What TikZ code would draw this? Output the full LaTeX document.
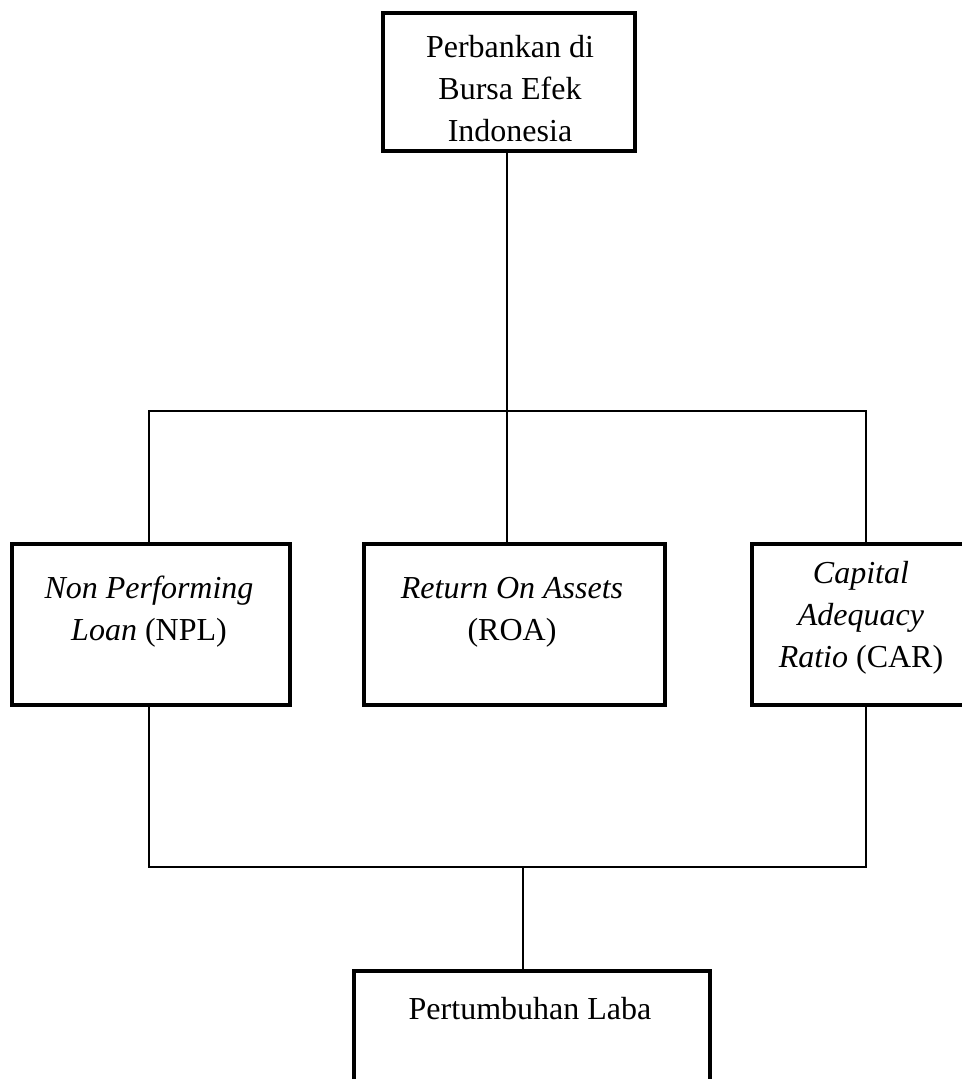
\documentclass[tikz,border=0pt]{standalone}
\usepackage{fontspec}
\setmainfont{Liberation Serif}
\usepackage{tikz}
\usetikzlibrary{positioning}

\begin{document}
\begin{tikzpicture}[x=0.75pt, y=-0.75pt, every node/.style={font=\fontsize{24}{31.5}\selectfont}, box/.style={draw,line width=3.4pt,inner sep=0pt,minimum height=120.75pt}, txt/.style={align=center,inner sep=0pt}, conn/.style={line width=1.2pt}]
\useasboundingbox (0,0) rectangle (962,1079);
\node[box,minimum width=189pt,minimum height=103.5pt] (bei) at (509,82) {};
\node[box,minimum width=208.5pt] (npl) at (151,624.5) {};
\node[box,minimum width=225.75pt] (roa) at (514.5,624.5) {};
\node[box,minimum width=163.5pt] (car) at (861,624.5) {};
\node[box,minimum width=267pt] (laba) at (532,1051.5) {};
\node[txt] (beitxt) at (510,89) {Perbankan di\\Bursa Efek\\Indonesia};
\node[txt] (npltxt) at (149,612) {\textit{Non Performing}\\\textit{Loan} (NPL)};
\node[txt] (roatxt) at (512,612) {\textit{Return On Assets}\\(ROA)};
\node[txt] (cartxt) at (861,618) {\textit{Capital}\\\textit{Adequacy}\\\textit{Ratio} (CAR)};
\node[txt] (labatxt) at (530,1009) {Pertumbuhan Laba};
\coordinate (split) at (507,411);
\coordinate (join) at (523,867);
\draw[conn] (split |- bei.south) -- (split |- roa.north);
\draw[conn] ([xshift=-1.5pt]npl.north) |- (split) -| ([xshift=3.75pt]car.north);
\draw[conn] ([xshift=-1.5pt]npl.south) |- (join) -| ([xshift=3.75pt]car.south);
\draw[conn] (join) -- (join |- laba.north);
\end{tikzpicture}
\end{document}
